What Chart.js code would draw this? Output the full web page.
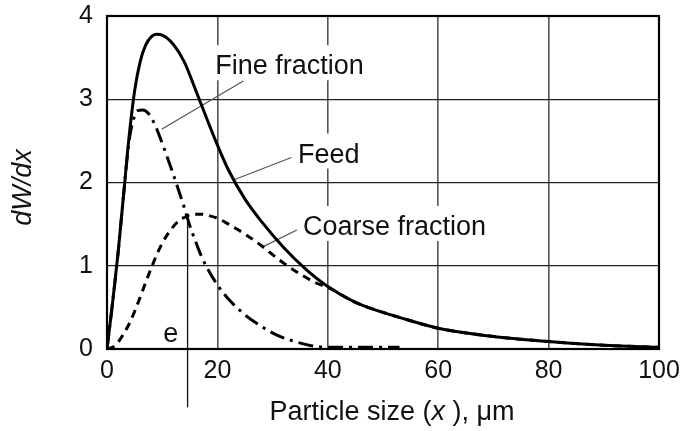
<!DOCTYPE html>
<html>
<head>
<meta charset="utf-8">
<script src="https://cdn.jsdelivr.net/npm/chart.js@4"></script>
<style>
html,body{margin:0;padding:0;background:#fff;}
#wrap{width:685px;height:431px;}
</style>
</head>
<body>
<div id="wrap"><canvas id="c" width="685" height="431"></canvas></div>
<script>
// ---- data ----
const feedX = [0,1,2,3,4,5,6,7,8,9,10,12,14,16,18,20,22,25,28,32,36,40,45,50,55,60,70,80,90,100];
const feedY = [0,0.55,1.15,1.85,2.55,3.1,3.45,3.65,3.75,3.78,3.77,3.66,3.45,3.12,2.78,2.45,2.15,1.8,1.53,1.22,0.96,0.75,0.56,0.44,0.34,0.25,0.15,0.09,0.045,0.02];
const fineX = [0,1,2,3,4,5,5.5,6.5,7.5,8.5,9.5,10.5,12,13,14,15,16,17,18,20,22,25,28,31,34,37,40,44,48,53];
const fineY = [0,0.55,1.15,1.85,2.5,2.8,2.86,2.87,2.83,2.72,2.56,2.38,2.1,1.9,1.7,1.48,1.3,1.13,0.99,0.77,0.6,0.41,0.27,0.16,0.09,0.04,0.02,0.02,0.02,0.02];
const coarseX = [0,1,2,3,4,5,6,7,8,9,10,11,12,13,14,15,16,17,18,20,22,25,28,31,35,38,40,45,50,55,60,70,80,90,100];
const coarseY = [0,0.02,0.08,0.18,0.3,0.45,0.62,0.8,0.97,1.13,1.27,1.38,1.47,1.54,1.58,1.61,1.62,1.62,1.61,1.57,1.5,1.38,1.24,1.08,0.9,0.79,0.74,0.56,0.44,0.34,0.25,0.15,0.09,0.045,0.02];
const xTicks = [0,20,40,60,80,100];
const yTicks = [0,1,2,3,4];
const seriesNames = ['Feed','Fine fraction','Coarse fraction'];
// label anchors (data coords): [text, x, y, leaderFromX, leaderFromY, leaderToX, leaderToY]
const labels = [
  ['Fine fraction', 19.6, 3.3, 24.7, 3.22, 9.9, 2.64],
  ['Feed', 34.6, 2.24, 33.4, 2.3, 22.9, 2.03],
  ['Coarse fraction', 35.5, 1.37, 34.4, 1.43, 28.3, 1.23]
];
const eLine = {x: 14.6, yTop: 1.6, yBottom: -0.7, label: 'e', labelX: 10.2, labelY: 0.09};

const pts = (xs, ys) => xs.map((x, i) => ({x, y: ys[i]}));
const FONT = '"Liberation Sans", Arial, Helvetica, sans-serif';

const decor = {
  id: 'decor',
  beforeDatasetsDraw(chart) {
    const {ctx, chartArea: a, scales: {x, y}} = chart;
    ctx.save();
    ctx.font = '27px ' + FONT;
    ctx.textBaseline = 'alphabetic';
    ctx.textAlign = 'left';
    labels.forEach(l => {
      const px = x.getPixelForValue(l[1]), py = y.getPixelForValue(l[2]);
      const w = ctx.measureText(l[0]).width;
      ctx.fillStyle = '#fff';
      ctx.fillRect(px - 3, py - 29, w + 6, 35);
    });
    ctx.strokeStyle = '#000';
    ctx.lineWidth = 2.2;
    ctx.strokeRect(a.left, a.top, a.right - a.left, a.bottom - a.top);
    ctx.strokeStyle = '#555';
    ctx.lineWidth = 1.2;
    labels.forEach(l => {
      ctx.beginPath();
      ctx.moveTo(x.getPixelForValue(l[3]), y.getPixelForValue(l[4]));
      ctx.lineTo(x.getPixelForValue(l[5]), y.getPixelForValue(l[6]));
      ctx.stroke();
    });
    ctx.fillStyle = '#111';
    labels.forEach(l => {
      ctx.fillText(l[0], x.getPixelForValue(l[1]), y.getPixelForValue(l[2]));
    });
    ctx.strokeStyle = '#111';
    ctx.lineWidth = 1.3;
    ctx.beginPath();
    const ex = x.getPixelForValue(eLine.x);
    ctx.moveTo(ex, y.getPixelForValue(eLine.yTop));
    ctx.lineTo(ex, y.getPixelForValue(eLine.yBottom));
    ctx.stroke();
    ctx.fillText(eLine.label, x.getPixelForValue(eLine.labelX), y.getPixelForValue(eLine.labelY));
    ctx.fillStyle = '#111';
    const parts = [['Particle size (', false], ['x', true], [' ), \u03bcm', false]];
    let total = 0;
    const widths = parts.map(p => { ctx.font = (p[1] ? 'italic ' : '') + '27px ' + FONT; const w = ctx.measureText(p[0]).width; total += w; return w; });
    let sx = (a.left + a.right) / 2 + 9 - total / 2;
    parts.forEach((p, i) => { ctx.font = (p[1] ? 'italic ' : '') + '27px ' + FONT; ctx.fillText(p[0], sx, 420); sx += widths[i]; });
    ctx.translate(31, (a.top + a.bottom) / 2 + 5);
    ctx.rotate(-Math.PI / 2);
    ctx.textAlign = 'center';
    ctx.font = 'italic 27px ' + FONT;
    ctx.fillText('dW/dx', 0, 0);
    ctx.restore();
  }
};

new Chart(document.getElementById('c'), {
  type: 'line',
  data: {
    datasets: [
      {label: seriesNames[0], data: pts(feedX, feedY), borderColor: '#000', borderWidth: 3, pointRadius: 0, cubicInterpolationMode: 'monotone', order: 0},
      {label: seriesNames[1], data: pts(fineX, fineY), borderColor: '#000', borderWidth: 3, borderDash: [15, 6, 3, 6], pointRadius: 0, cubicInterpolationMode: 'monotone', order: 1},
      {label: seriesNames[2], data: pts(coarseX, coarseY), borderColor: '#000', borderWidth: 3, borderDash: [8, 6], pointRadius: 0, cubicInterpolationMode: 'monotone', order: 2}
    ]
  },
  options: {
    responsive: false,
    animation: false,
    events: [],
    layout: {padding: {left: 0, top: 16, right: 26, bottom: 0}},
    plugins: {legend: {display: false}, tooltip: {enabled: false}},
    scales: {
      x: {
        type: 'linear', min: 0, max: 100,
        afterBuildTicks: s => { s.ticks = xTicks.map(v => ({value: v})); },
        afterFit: s => { s.height = 82; s.paddingLeft = 0; s.paddingRight = 0; },
        grid: {color: '#555', lineWidth: 1.6, drawTicks: false},
        border: {display: false},
        ticks: {padding: 7, color: '#111', font: {family: FONT, size: 25}, maxRotation: 0}
      },
      y: {
        type: 'linear', min: 0, max: 4,
        afterBuildTicks: s => { s.ticks = yTicks.map(v => ({value: v})); },
        afterFit: s => { s.width = 107; s.paddingTop = 0; s.paddingBottom = 0; },
        grid: {color: '#222', lineWidth: 1.2, drawTicks: false},
        border: {display: false},
        ticks: {padding: 14, color: '#111', font: {family: FONT, size: 25}}
      }
    }
  },
  plugins: [decor]
});
</script>
</body>
</html>
